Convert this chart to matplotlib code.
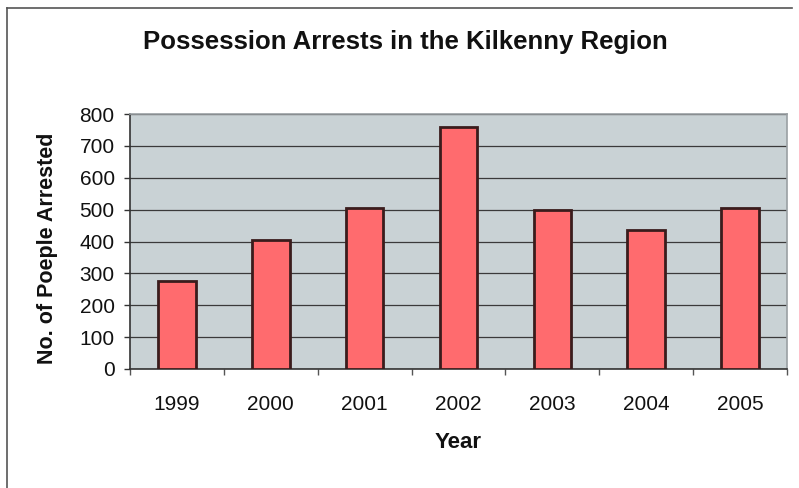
import matplotlib
matplotlib.use("Agg")
import matplotlib.pyplot as plt
from matplotlib.lines import Line2D

years = ["1999", "2000", "2001", "2002", "2003", "2004", "2005"]
arrests = [275, 405, 505, 760, 500, 435, 505]
yticks = [0, 100, 200, 300, 400, 500, 600, 700, 800]

plt.rcParams['font.family'] = ['Liberation Sans', 'DejaVu Sans']

W, H = 799, 488
fig = plt.figure(figsize=(W / 100, H / 100), dpi=100)
fig.patch.set_facecolor('white')

left, right, top, bottom = 130, 787, 114, 369
ax = fig.add_axes([left / W, 1 - bottom / H, (right - left) / W, (bottom - top) / H])
ax.set_facecolor('#C9D2D5')

x = list(range(len(years)))
ax.bar(x, arrests, width=0.4, color='#FF6B6E', edgecolor='#3A1C1C', linewidth=2, zorder=3)

ax.set_xlim(-0.5, len(years) - 0.5)
ax.set_ylim(0, 800)
ax.set_yticks(yticks)
ax.set_yticklabels([str(v) for v in yticks], fontsize=15, color='#111111')
ax.set_xticks(x)
ax.set_xticklabels(years, fontsize=15, color='#111111')
ax.tick_params(axis='x', length=0, pad=19)
ax.tick_params(axis='y', length=4, width=1, direction='out', pad=7, color='#333333')
ax.set_xticks([i - 0.5 for i in range(len(years) + 1)], minor=True)
ax.tick_params(axis='x', which='minor', length=4, width=1, color='#555555')

ax.grid(axis='y', color='#3a3a3a', linewidth=0.9, zorder=1)
ax.set_axisbelow(True)
for s in ['left', 'bottom']:
    ax.spines[s].set_color('#333333')
    ax.spines[s].set_linewidth(1.2)
for s in ['top', 'right']:
    ax.spines[s].set_color('#9aa0a3')
    ax.spines[s].set_linewidth(1.2)

ax.set_xlabel('Year', fontsize=16, fontweight='bold', color='#111111')
ax.xaxis.set_label_coords((458 - left) / (right - left), -(443 - bottom) / (bottom - top))
ax.xaxis.label.set_va('center')
ax.set_ylabel('No. of Poeple Arrested', fontsize=15.5, fontweight='bold', color='#111111')
ax.yaxis.set_label_coords(-(left - 48) / (right - left), (bottom - 248) / (bottom - top))
ax.yaxis.label.set_va('center')

fig.text(405.5 / W, 1 - 42 / H, 'Possession Arrests in the Kilkenny Region',
         fontsize=18.5, fontweight='bold', ha='center', va='center', color='#111111')

# outer frame lines (left and top)
fig.add_artist(Line2D([7 / W, 7 / W], [0, 1 - 8 / H], color='#555555', linewidth=1.2, transform=fig.transFigure))
fig.add_artist(Line2D([7 / W, 792 / W], [1 - 8 / H, 1 - 8 / H], color='#555555', linewidth=1.2, transform=fig.transFigure))

fig.savefig('out.png', dpi=100)
